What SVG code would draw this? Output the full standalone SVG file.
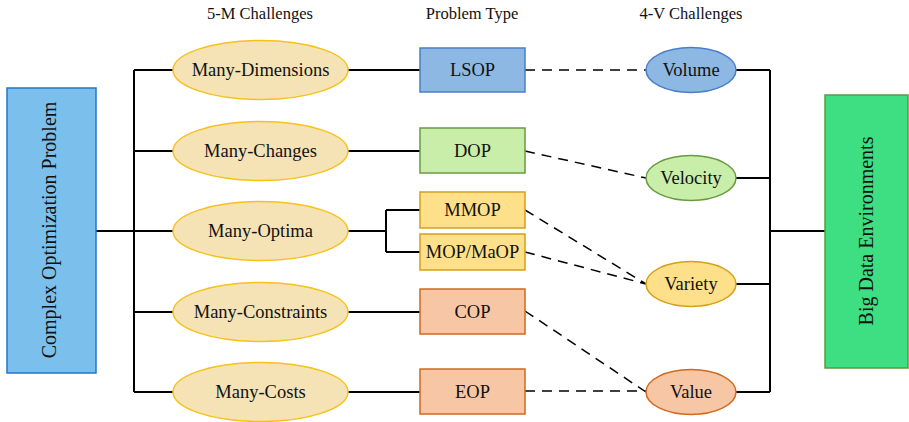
<svg xmlns="http://www.w3.org/2000/svg" width="909" height="422" viewBox="0 0 909 422">
<style>
text{font-family:"Liberation Serif","Times New Roman",serif;fill:#111;}
.hdr{font-size:16.5px;text-anchor:middle;}
.lbl{font-size:18.5px;text-anchor:middle;dominant-baseline:central;}
.big{font-size:20px;text-anchor:middle;dominant-baseline:central;}
.m{fill:#f5e3b5;stroke:#f5c21b;stroke-width:1.5;}
.blue{fill:#8db8e3;stroke:#4a7fc8;stroke-width:1.5;}
.green{fill:#c9eeaa;stroke:#6a9a40;stroke-width:1.5;}
.yellow{fill:#ffe08a;stroke:#d4a017;stroke-width:1.5;}
.orange{fill:#f7c6a5;stroke:#d06a20;stroke-width:1.5;}
.solid{fill:none;stroke:#000;stroke-width:2;}
.dash{fill:none;stroke:#000;stroke-width:1.5;stroke-dasharray:10 7;}
</style>
<g id="headers">
<text class="hdr" x="260" y="19">5-M Challenges</text>
<text class="hdr" x="472" y="19">Problem Type</text>
<text class="hdr" x="691" y="19">4-V Challenges</text>
</g>
<g id="connectors">
<path class="solid" d="M96 231H134M134 70V392M134 70H173M134 151H173M134 231H173M134 312H173M134 392H173"/>
<path class="solid" d="M348 70H420M348 151H420M348 231H386M386 210V252M386 210H420M386 252H420M348 312H420M348 392H420"/>
<path class="solid" d="M736 70H770M736 178H770M736 284H770M736 392H770M770 70V392M770 231H825"/>
<path class="dash" d="M525 70L646 70M525 151L646 178M525 210L646 284M525 252L646 284M525 311L646 392M525 391L646 391"/>
</g>
<g id="complex">
<rect x="7" y="88" width="89" height="285" fill="#7bc0ec" stroke="#2277cc" stroke-width="1.5"/>
<text class="big" transform="translate(49 230) rotate(-90)">Complex Optimization Problem</text>
</g>
<g id="many-dimensions"><ellipse class="m" cx="260.5" cy="70" rx="87.5" ry="29.5"/><text class="lbl" x="260.5" y="70">Many-Dimensions</text></g>
<g id="many-changes"><ellipse class="m" cx="260.5" cy="151" rx="87.5" ry="29.5"/><text class="lbl" x="260.5" y="151">Many-Changes</text></g>
<g id="many-optima"><ellipse class="m" cx="260.5" cy="231" rx="87.5" ry="29.5"/><text class="lbl" x="260.5" y="231">Many-Optima</text></g>
<g id="many-constraints"><ellipse class="m" cx="260.5" cy="312" rx="87.5" ry="29.5"/><text class="lbl" x="260.5" y="312">Many-Constraints</text></g>
<g id="many-costs"><ellipse class="m" cx="260.5" cy="392" rx="87.5" ry="29.5"/><text class="lbl" x="260.5" y="392">Many-Costs</text></g>
<g id="lsop"><rect class="blue" x="420" y="48" width="105" height="44"/><text class="lbl" x="472.5" y="70">LSOP</text></g>
<g id="dop"><rect class="green" x="420" y="128" width="105" height="45"/><text class="lbl" x="472.5" y="151">DOP</text></g>
<g id="mmop"><rect class="yellow" x="420" y="192" width="105" height="36"/><text class="lbl" x="472.5" y="210">MMOP</text></g>
<g id="mop-maop"><rect class="yellow" x="420" y="234" width="105" height="36"/><text class="lbl" x="472.5" y="252">MOP/MaOP</text></g>
<g id="cop"><rect class="orange" x="420" y="289" width="105" height="45"/><text class="lbl" x="472.5" y="311.5">COP</text></g>
<g id="eop"><rect class="orange" x="420" y="369" width="105" height="45"/><text class="lbl" x="472.5" y="391.5">EOP</text></g>
<g id="volume"><ellipse class="blue" cx="691" cy="70" rx="45" ry="22.5"/><text class="lbl" x="691" y="70">Volume</text></g>
<g id="velocity"><ellipse class="green" cx="691" cy="178" rx="45" ry="22.5"/><text class="lbl" x="691" y="178">Velocity</text></g>
<g id="variety"><ellipse class="yellow" cx="691" cy="284" rx="45" ry="22.5"/><text class="lbl" x="691" y="284">Variety</text></g>
<g id="value"><ellipse class="orange" cx="691" cy="392" rx="45" ry="22.5"/><text class="lbl" x="691" y="392">Value</text></g>
<g id="big-data">
<rect x="825" y="95" width="83" height="273" fill="#3ede82" stroke="#5a9a40" stroke-width="1.5"/>
<text class="big" transform="translate(866 231) rotate(-90)">Big Data Environments</text>
</g>
</svg>
